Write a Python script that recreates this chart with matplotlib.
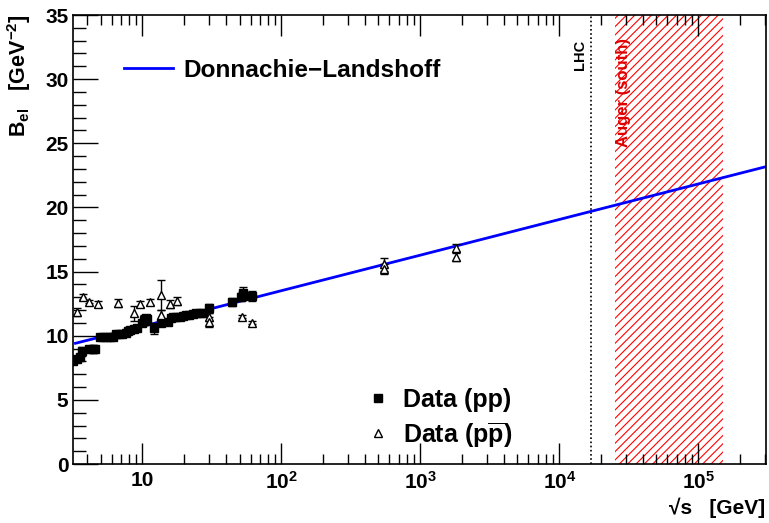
import matplotlib
matplotlib.use("Agg")
import matplotlib.pyplot as plt
from matplotlib.ticker import LogLocator, MultipleLocator, NullFormatter, FuncFormatter
from matplotlib.lines import Line2D
import numpy as np

plt.rcParams['font.family'] = ['Liberation Sans', 'DejaVu Sans']
plt.rcParams['font.weight'] = 'bold'
plt.rcParams['mathtext.fontset'] = 'custom'
plt.rcParams['mathtext.rm'] = 'Liberation Sans:bold'
plt.rcParams['mathtext.bf'] = 'Liberation Sans:bold'
plt.rcParams['mathtext.it'] = 'Liberation Sans:bold'
plt.rcParams['hatch.linewidth'] = 0.8

# pp data
pp_sqrts = [3.18, 3.40, 3.55, 3.70, 4.14, 4.38, 4.58, 4.94, 5.22, 5.52, 5.83, 6.10,
            6.44, 6.81, 7.19, 7.59, 7.89, 8.20, 8.66, 9.15, 10.0, 10.4, 10.8,
            10.2, 10.7, 12.1, 13.7, 15.3, 16.1, 16.6, 17.5, 18.5, 19.5, 20.7, 21.8,
            23.1, 24.4, 25.8, 27.2, 30.0, 44.2, 51.2, 52.6, 53.2, 61.4]
pp_B = [8.05, 8.2, 8.36, 8.8, 9.0, 8.96, 8.96, 9.92, 9.92, 9.92, 9.92, 9.92,
        10.13, 10.13, 10.13, 10.23, 10.39, 10.42, 10.5, 10.6, 10.97, 11.17, 11.28,
        11.22, 11.35, 10.57, 10.97, 11.09, 11.36, 11.43, 11.43, 11.48, 11.53, 11.59, 11.64,
        11.69, 11.74, 11.80, 11.74, 12.13, 12.65, 13.04, 13.17, 13.3, 13.09]
pp_err = [0.1, 0.1, 0.1, 0.35, 0.2, 0.3, 0.2, 0.1, 0.1, 0.1, 0.1, 0.1,
          0.1, 0.1, 0.1, 0.1, 0.1, 0.1, 0.1, 0.1, 0.1, 0.1, 0.1,
          0.4, 0.15, 0.4, 0.1, 0.1, 0.1, 0.1, 0.1, 0.1, 0.1, 0.1, 0.1,
          0.1, 0.1, 0.1, 0.1, 0.35, 0.3, 0.3, 0.4, 0.5, 0.4]

# p-pbar data
ppbar_sqrts = [3.36, 3.73, 4.14, 4.83, 6.66, 8.66, 9.56, 11.3, 13.7, 13.7, 15.8, 17.7,
               30.4, 30.4, 52.0, 61.4, 546, 546, 1800, 1800]
ppbar_B = [11.87, 13.04, 12.65, 12.47, 12.57, 11.74, 12.45, 12.65, 13.17, 11.61, 12.45, 12.73,
           11.48, 11.09, 11.48, 11.01, 15.56, 15.2, 16.86, 16.16]
ppbar_err = [0.3, 0.2, 0.1, 0.2, 0.3, 0.6, 0.25, 0.25, 1.2, 0.4, 0.3, 0.3,
             0.3, 0.4, 0.1, 0.1, 0.5, 0.4, 0.3, 0.3]

# Donnachie-Landshoff curve
dl_sqrts = [3.3, 10, 100, 1e3, 1e4, 1e5, 3e5]
dl_B = [9.41, 10.73, 13.51, 16.28, 19.06, 21.83, 23.15]

lhc_sqrts = 1.7e4
auger_range = [2.5e4, 1.5e5]

fig = plt.figure(figsize=(7.69, 5.23), dpi=100)
ax = fig.add_axes([0.0945, 0.1128, 0.9015, 0.8585])

ax.fill_between(auger_range, 0, 35, facecolor='none', edgecolor='red', hatch='////', linewidth=0)
ax.axvline(lhc_sqrts, color='black', linestyle=(0, (1, 1.5)), linewidth=1.2)

ax.plot(dl_sqrts, dl_B, color='#0000ff', linewidth=2, label='Donnachie\u2212Landshoff')

ax.errorbar(pp_sqrts, pp_B, yerr=pp_err, fmt='s', color='black', markersize=6,
            elinewidth=1, capsize=3, capthick=1, label='Data (pp)')
ax.errorbar(ppbar_sqrts, ppbar_B, yerr=ppbar_err, fmt='^', color='black', mfc='white',
            markersize=6, elinewidth=1, capsize=3, capthick=1, mew=1,
            label=r'Data (p$\overline{\mathrm{p}}$)')

ax.set_xscale('log')
ax.set_xlim(3.15, 3.07e5)
ax.set_ylim(0, 35)

def xfmt(v, pos):
    e = int(round(np.log10(v)))
    if e == 1:
        return '10'
    return r'$\mathrm{10^{%d}}$' % e

ax.yaxis.set_major_locator(MultipleLocator(5))
ax.yaxis.set_minor_locator(MultipleLocator(1))
ax.xaxis.set_major_locator(LogLocator(base=10, numticks=20))
ax.xaxis.set_major_formatter(FuncFormatter(xfmt))
ax.xaxis.set_minor_locator(LogLocator(base=10, subs=np.arange(2, 10), numticks=20))
ax.xaxis.set_minor_formatter(NullFormatter())

ax.tick_params(axis='both', which='both', direction='in', top=True, right=False)
ax.tick_params(axis='y', which='major', length=18, width=1, labelsize=15, pad=3)
ax.tick_params(axis='y', which='minor', length=9, width=1)
ax.tick_params(axis='x', which='major', length=15, width=1, labelsize=15, pad=5)
ax.tick_params(axis='x', which='minor', length=7.5, width=1)
for lab in ax.get_xticklabels() + ax.get_yticklabels():
    lab.set_fontweight('bold')
for sp in ax.spines.values():
    sp.set_linewidth(1.2)

fig.text(0.025, (523 - 14) / 523, r'B$_{\mathrm{el}}$   [GeV$^{\mathrm{-2}}$]', rotation=90,
         ha='center', va='top', fontsize=15.5, fontweight='bold')
fig.text(0.995, 0.01, '\u221As   [GeV]', ha='right', va='bottom', fontsize=15, fontweight='bold')

ax.text(lhc_sqrts * 0.93, 33.1, 'LHC', rotation=90, ha='right', va='top', fontsize=10.5, fontweight='bold')
ax.text(2.55e4, 33.2, 'Auger (south)', rotation=90, ha='left', va='top', fontsize=12,
        fontweight='bold', color='#dd0000')

h, l = ax.get_legend_handles_labels()
leg1 = ax.legend([h[0]], [l[0]], loc='center left', bbox_to_anchor=(0.042, 0.877), frameon=False,
                 prop={'weight': 'bold', 'size': 17.6}, handlelength=2.0, handletextpad=0.45)
ax.add_artist(leg1)
hp = Line2D([], [], marker='s', color='black', linestyle='none', markersize=6)
hb = Line2D([], [], marker='^', color='black', mfc='white', linestyle='none', markersize=6)
ax.legend([hp, hb], [l[1], l[2]], loc='lower left', bbox_to_anchor=(0.393, -0.018), frameon=False,
          prop={'weight': 'bold', 'size': 18}, handlelength=0.8, handletextpad=0.6, labelspacing=0.3)

fig.savefig('out.png', dpi=100)
